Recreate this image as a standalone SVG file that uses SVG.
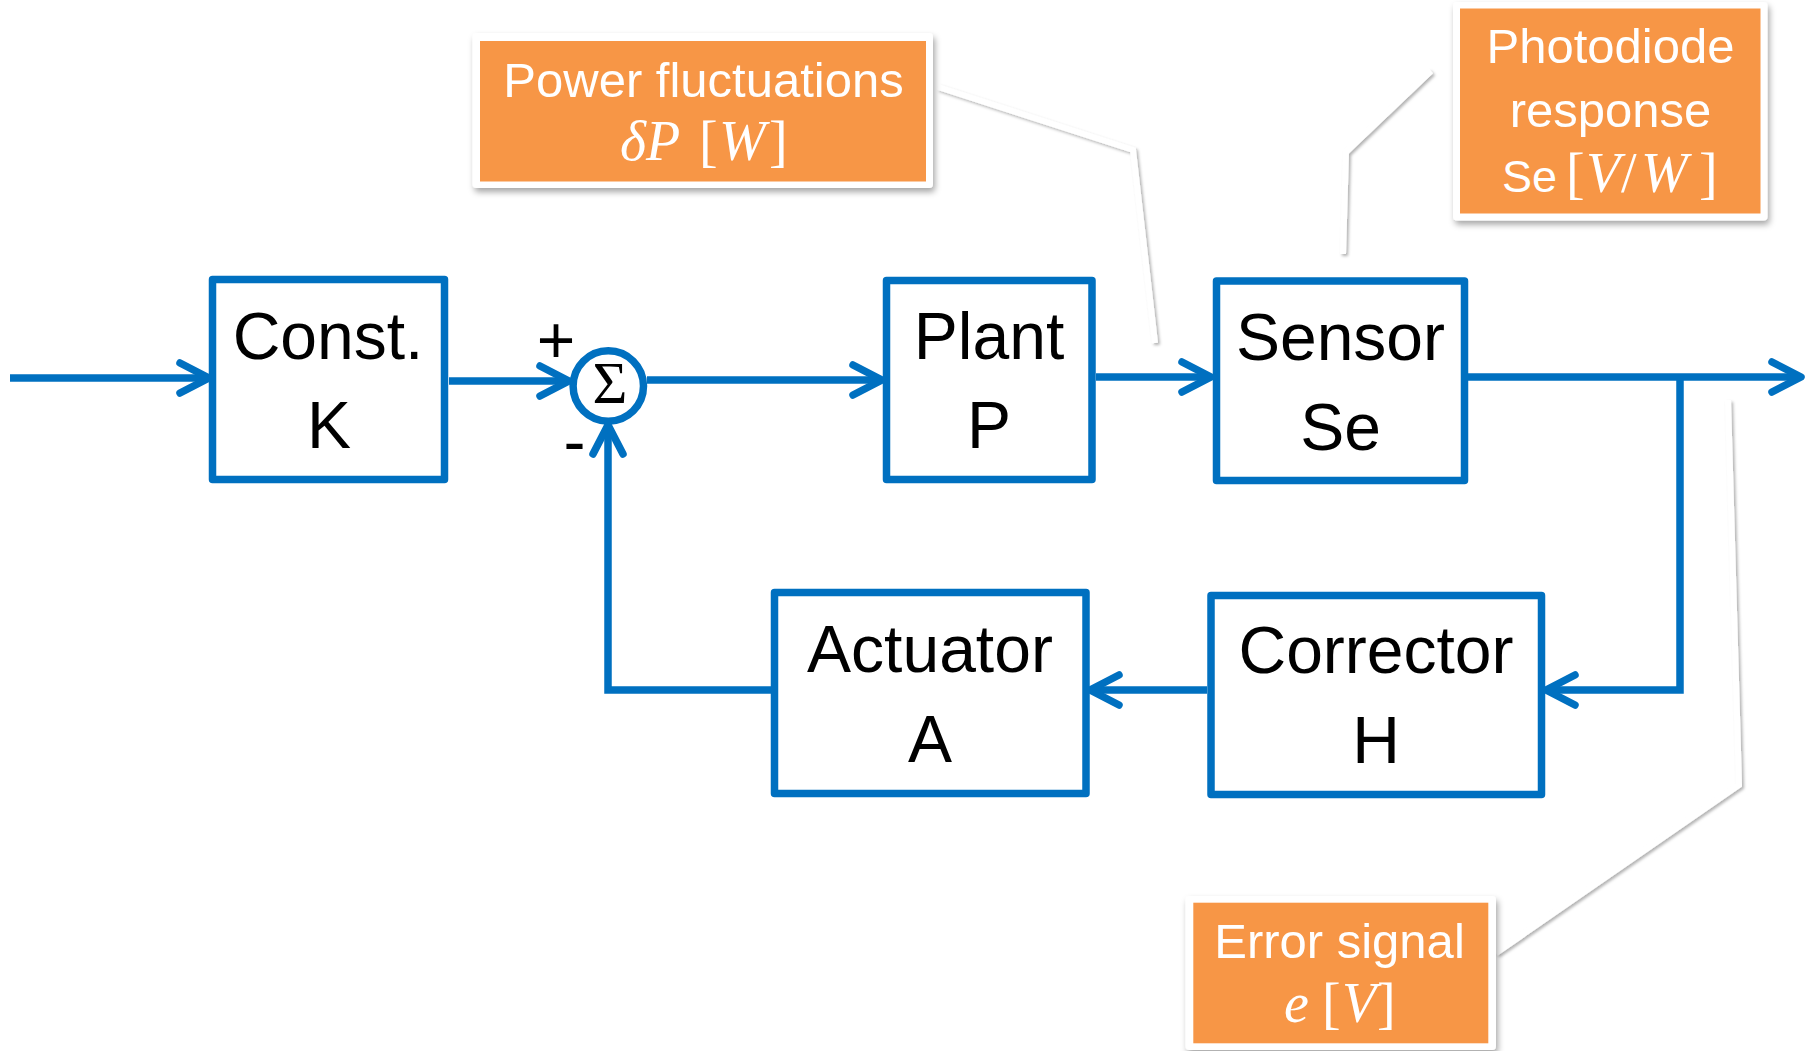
<svg xmlns="http://www.w3.org/2000/svg" width="1806" height="1051" viewBox="0 0 1806 1051">
<defs>
<style>
.blk{fill:#fff;stroke:#0070C0;stroke-width:7.5;stroke-linejoin:round}
.wire{fill:none;stroke:#0070C0;stroke-width:7.5;stroke-linejoin:miter}
.lbl{font-family:"Liberation Sans",Arial,sans-serif;font-size:66px;fill:#000;text-anchor:middle}
.sign{font-family:"Liberation Sans",Arial,sans-serif;font-size:66px;fill:#000;text-anchor:middle}
.frame{fill:#fff;filter:url(#sh)}
.orange{fill:#F79646}
.wt{font-family:"Liberation Sans",Arial,sans-serif;font-size:49px;fill:#fff;text-anchor:middle}
.math{font-family:"Liberation Serif","Times New Roman",serif;font-size:56px;fill:#fff}
.it{font-style:italic}
.call{fill:none;stroke:#fff;stroke-width:6;stroke-linejoin:miter;filter:url(#lsh)}
</style>
<filter id="sh" x="-10%" y="-10%" width="130%" height="140%">
<feDropShadow dx="2" dy="4" stdDeviation="3" flood-color="#000" flood-opacity="0.35"/>
</filter>
<filter id="lsh" x="-20%" y="-20%" width="140%" height="140%">
<feDropShadow dx="2" dy="2" stdDeviation="1.5" flood-color="#000" flood-opacity="0.3"/>
</filter>
<marker id="arr" markerUnits="userSpaceOnUse" viewBox="-40 -25 50 50" markerWidth="50" markerHeight="50" refX="0" refY="0" orient="auto">
<path d="M-29,-15 L0,0 L-29,15" fill="none" stroke="#0070C0" stroke-width="7.5" stroke-linecap="round" stroke-linejoin="round"/>
</marker>
</defs>
<rect width="1806" height="1051" fill="#fff"/>

<g id="callouts">
<path class="call" d="M938,87 L1133,150 L1155,343"/>
<path class="call" d="M1431,71 L1346,152 L1343,254"/>
<path class="call" d="M1496,953 L1739,785 L1728,400"/>
</g>

<g id="connectors">
<path class="wire" d="M10,378 H209" marker-end="url(#arr)"/>
<path class="wire" d="M449,381 H569" marker-end="url(#arr)"/>
<path class="wire" d="M647,380 H882" marker-end="url(#arr)"/>
<path class="wire" d="M1096,377 H1211" marker-end="url(#arr)"/>
<path class="wire" d="M1468,377 H1801" marker-end="url(#arr)"/>
<path class="wire" d="M1680,377 V690 H1546" marker-end="url(#arr)"/>
<path class="wire" d="M1207,690 H1090" marker-end="url(#arr)"/>
<path class="wire" d="M771,690 H608 V425" marker-end="url(#arr)"/>
</g>

<g id="const">
<rect class="blk" x="212.5" y="279.5" width="232" height="200"/>
<text class="lbl" x="328" y="359">Const.</text>
<text class="lbl" x="329" y="448">K</text>
</g>

<g id="sum">
<circle cx="608.3" cy="386" r="35.2" fill="#fff" stroke="#0070C0" stroke-width="7.5"/>
<text x="610" y="403" font-family="Liberation Serif,'Times New Roman',serif" font-size="60" text-anchor="middle" fill="#000">Σ</text>
<text class="sign" x="556" y="363">+</text>
<text class="sign" x="574.5" y="464">-</text>
</g>

<g id="plant">
<rect class="blk" x="886.5" y="280.5" width="205.5" height="199"/>
<text class="lbl" x="989" y="359">Plant</text>
<text class="lbl" x="989" y="448">P</text>
</g>

<g id="sensor">
<rect class="blk" x="1216.5" y="281" width="248" height="199.5"/>
<text class="lbl" x="1340.5" y="360">Sensor</text>
<text class="lbl" x="1340.5" y="450">Se</text>
</g>

<g id="actuator">
<rect class="blk" x="774.5" y="592.5" width="311.5" height="201"/>
<text class="lbl" x="930" y="672">Actuator</text>
<text class="lbl" x="930" y="762">A</text>
</g>

<g id="corrector">
<rect class="blk" x="1211" y="595.5" width="330.5" height="199"/>
<text class="lbl" x="1376" y="673">Corrector</text>
<text class="lbl" x="1376" y="763">H</text>
</g>

<g id="power-label">
<rect class="frame" x="472.5" y="33" width="460.5" height="155" rx="4"/>
<rect class="orange" x="480" y="41" width="446" height="140.5"/>
<text class="wt" x="703.5" y="97">Power fluctuations</text>
<text class="math" y="160"><tspan class="it" x="620">δP</tspan><tspan x="699">[</tspan><tspan class="it" x="719">W</tspan><tspan x="769">]</tspan></text>
</g>

<g id="photodiode-label">
<rect class="frame" x="1453" y="2" width="314.5" height="218.5" rx="4"/>
<rect class="orange" x="1460" y="8.5" width="300.5" height="205"/>
<text class="wt" x="1610.5" y="63">Photodiode</text>
<text class="wt" x="1610.5" y="127">response</text>
<text class="math" y="192"><tspan x="1502" font-family="Liberation Sans,Arial,sans-serif" font-size="45">Se</tspan><tspan x="1566">[</tspan><tspan class="it" x="1586">V</tspan><tspan x="1621">/</tspan><tspan class="it" x="1641">W</tspan><tspan x="1699">]</tspan></text>
</g>

<g id="error-label">
<rect class="frame" x="1185.5" y="896" width="310.5" height="154" rx="4"/>
<rect class="orange" x="1193.3" y="902.7" width="295" height="140.6"/>
<text class="wt" x="1339.5" y="958" font-size="47">Error signal</text>
<text class="math" y="1022"><tspan class="it" x="1284">e</tspan><tspan x="1322">[</tspan><tspan class="it" x="1342">V</tspan><tspan x="1377">]</tspan></text>
</g>
</svg>
